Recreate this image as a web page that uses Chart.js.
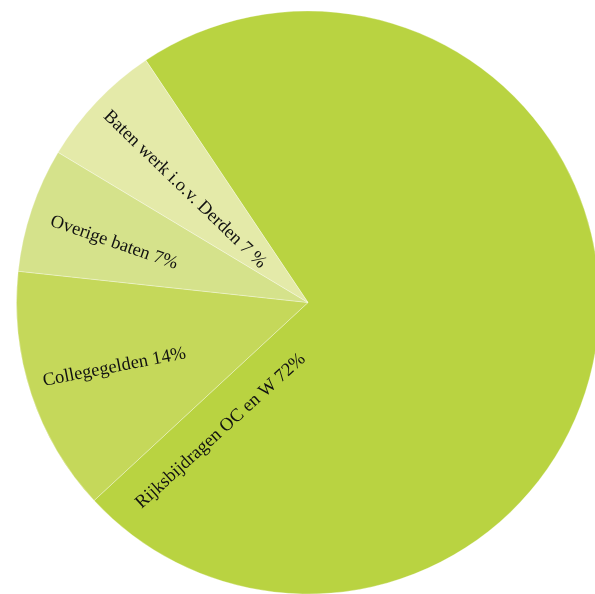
<!DOCTYPE html>
<html>
<head>
<meta charset="utf-8">
<script src="https://cdn.jsdelivr.net/npm/chart.js@4/dist/chart.umd.min.js"></script>
<style>
  html, body { margin: 0; padding: 0; background: #fff; overflow: hidden; }
  canvas { display: block; }
</style>
</head>
<body>
<canvas id="chart" width="595" height="594"></canvas>
<script>
// baten (share of total, %)
let categories = ['Rijksbijdragen OC en W', 'Collegegelden', 'Overige baten', 'Baten werk i.o.v. Derden'];
let shares = [72.5, 13.6, 6.9, 7.0];
let sliceLabels = ['Rijksbijdragen OC en W 72%', 'Collegegelden 14%', 'Overige baten 7%', 'Baten werk i.o.v. Derden 7 %'];
let colors = ['#b9d341', '#c5d85a', '#d5e28b', '#e4eaa9'];

// where each label sits: fraction along the slice, fraction of radius, extra tilt (deg)
let labelPlace = [
    {t: 0.968, r: 0.91, tilt: 9},
    {t: 0.516, r: 0.95, tilt: 6.5},
    {t: 0.42, r: 0.926, tilt: 2.5},
    {t: 0.44, r: 0.949, tilt: 1.9},
];

const sliceText = {
    id: 'sliceText',
    afterDatasetsDraw(chart) {
        let ctx = chart.ctx;
        let meta = chart.getDatasetMeta(0);
        ctx.save();
        ctx.font = '18.5px "Liberation Serif", serif';
        ctx.fillStyle = '#111';
        ctx.textAlign = 'left';
        ctx.textBaseline = 'alphabetic';
        meta.data.forEach((arc, i) => {
            let p = labelPlace[i];
            let a = arc.startAngle + p.t * (arc.endAngle - arc.startAngle);
            let r = arc.outerRadius * p.r;
            ctx.save();
            ctx.translate(arc.x + r * Math.cos(a), arc.y + r * Math.sin(a));
            ctx.rotate(a + Math.PI + p.tilt * Math.PI / 180);
            ctx.fillText(sliceLabels[i], 0, 0);
            ctx.restore();
        });
        ctx.restore();
    }
};

let ctx = document.getElementById('chart').getContext('2d');
let chart = new Chart(ctx, {
    type: 'pie',
    data: {
        labels: categories,
        datasets: [{
            data: shares,
            backgroundColor: colors,
            borderColor: 'rgba(255,255,255,0.3)',
            borderWidth: 1,
            radius: 291.5,
            clip: false,
        }]
    },
    options: {
        responsive: false,
        animation: false,
        rotation: -33.8,
        layout: {
            padding: {left: 21, top: 11, right: 0, bottom: 0}
        },
        plugins: {
            legend: {display: false},
            tooltip: {enabled: false},
        },
    },
    plugins: [sliceText]
});
</script>
</body>
</html>
